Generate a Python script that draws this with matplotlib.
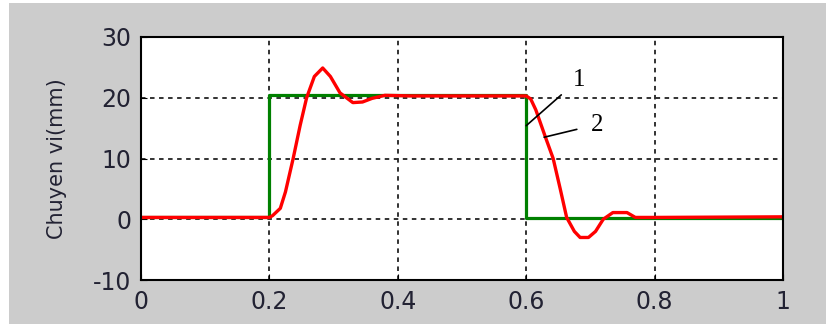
import numpy as np
import matplotlib
matplotlib.use("Agg")
import matplotlib.pyplot as plt
from matplotlib.patches import Rectangle

plt.rcParams["font.family"] = ["DejaVu Sans"]
plt.rcParams["axes.unicode_minus"] = False

# reference step (1)
t_ref = [0.0, 0.2, 0.2, 0.6, 0.6, 1.0]
y_ref = [0.3, 0.3, 20.4, 20.4, 0.2, 0.2]

# response (2)
t_resp = [0.0, 0.2, 0.205, 0.217, 0.225, 0.237, 0.248, 0.258, 0.27, 0.283, 0.295,
          0.31, 0.33, 0.345, 0.36, 0.38, 0.42, 0.5, 0.6, 0.607, 0.615, 0.63,
          0.642, 0.653, 0.663, 0.675, 0.684, 0.697, 0.708, 0.72, 0.735, 0.757,
          0.77, 0.8, 1.0]
y_resp = [0.3, 0.3, 0.6, 1.8, 4.5, 10.0, 15.5, 20.0, 23.5, 24.9, 23.5,
          20.8, 19.2, 19.3, 19.9, 20.4, 20.3, 20.3, 20.3, 19.8, 18.0, 13.5,
          10.0, 5.0, 0.3, -2.0, -3.0, -3.0, -2.0, 0.0, 1.1, 1.1,
          0.3, 0.3, 0.4]

fig = plt.figure(figsize=(8.26, 3.24), dpi=100, facecolor="#cccccc")
# thin white strips along the top and left edges
fig.patches.append(Rectangle((0, 1 - 3 / 324), 1, 3 / 324,
                             transform=fig.transFigure, facecolor="white",
                             edgecolor="none"))
fig.patches.append(Rectangle((0, 0), 9 / 826, 1,
                             transform=fig.transFigure, facecolor="white",
                             edgecolor="none"))

ax = fig.add_axes([141 / 826, 44 / 324, 642 / 826, 243 / 324])
ax.set_facecolor("white")

ax.plot(t_ref, y_ref, color="#008000", lw=2.3)
ax.plot(t_resp, y_resp, color="#ff0000", lw=2.4)

ax.set_xlim(0, 1)
ax.set_ylim(-10, 30)
ax.set_xticks([0, 0.2, 0.4, 0.6, 0.8, 1])
ax.set_xticklabels(["0", "0.2", "0.4", "0.6", "0.8", "1"])
ax.set_yticks([-10, 0, 10, 20, 30])
ax.set_yticklabels(["-10", "0", "10", "20", "30"])
ax.grid(True, color="#222222", linestyle=(0, (2.5, 2.5)), lw=1.3)
ax.tick_params(direction="in", length=4, labelsize=17, pad=7, colors="black",
               labelcolor="#222233")
for s in ax.spines.values():
    s.set_linewidth(1.5)
ax.set_ylabel("Chuyen vi(mm)", fontsize=15, labelpad=19, color="#222233")

# labels 1 and 2 with leader lines
ax.annotate("1", xy=(0.6, 15.4), xytext=(0.672, 22.0),
            fontsize=18, family="Liberation Serif",
            arrowprops=dict(arrowstyle="-", color="black", lw=1.2,
                            shrinkA=8, shrinkB=0))
ax.annotate("2", xy=(0.628, 13.5), xytext=(0.700, 14.6),
            fontsize=18, family="Liberation Serif",
            arrowprops=dict(arrowstyle="-", color="black", lw=1.2,
                            shrinkA=8, shrinkB=0))

fig.savefig("out.png", dpi=100, facecolor=fig.get_facecolor())
